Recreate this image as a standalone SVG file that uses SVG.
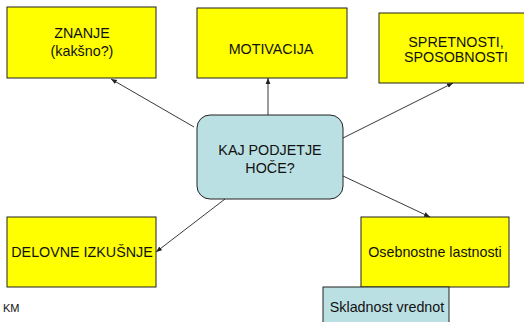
<svg xmlns="http://www.w3.org/2000/svg" width="524" height="322" viewBox="0 0 524 322">
<style>
.y{fill:#FFFF00;stroke:#222;stroke-width:1}
.b{fill:#BBE0E3;stroke:#222;stroke-width:1}
text{font-family:"Liberation Sans",Arial,sans-serif;font-size:14.3px;fill:#111;text-anchor:middle}
.c line{stroke:#222;stroke-width:0.9;marker-end:url(#ah)}
</style>
<defs>
<marker id="ah" viewBox="0 0 10 10" refX="10" refY="5" markerWidth="6" markerHeight="6" orient="auto" markerUnits="userSpaceOnUse">
<path d="M0,1 L10,5 L0,9 Z" fill="#222"/>
</marker>
</defs>
<rect width="524" height="322" fill="#fff"/>
<g id="znanje"><rect class="y" x="7" y="7" width="149" height="71"/><text x="82" y="38">ZNANJE</text><text x="82" y="56">(kakšno?)</text></g>
<g id="motivacija"><rect class="y" x="197" y="8" width="150" height="70"/><text x="271" y="54">MOTIVACIJA</text></g>
<g id="spretnosti"><rect class="y" x="379" y="13" width="147" height="70"/><text x="456" y="47">SPRETNOSTI,</text><text x="456" y="62">SPOSOBNOSTI</text></g>
<g id="center"><rect class="b" x="197" y="115" width="146" height="84" rx="13"/><text x="270" y="155">KAJ PODJETJE</text><text x="270" y="173">HOČE?</text></g>
<g id="delovne"><rect class="y" x="7" y="217" width="149" height="70"/><text x="82" y="257">DELOVNE IZKUŠNJE</text></g>
<g id="osebnostne"><rect class="y" x="361" y="217" width="148" height="70"/><text x="435" y="257">Osebnostne lastnosti</text></g>
<g id="skladnost"><rect class="b" x="323" y="287" width="126" height="40"/><text x="387" y="312">Skladnost vrednot</text></g>
<g id="km"><text x="3" y="312" style="font-size:11px;text-anchor:start">KM</text></g>
<g class="c" id="connectors">
<line x1="194" y1="127" x2="111" y2="79"/>
<line x1="268" y1="115" x2="268" y2="78"/>
<line x1="343" y1="138" x2="453" y2="83"/>
<line x1="343" y1="176" x2="430" y2="217"/>
<line x1="225" y1="199" x2="156" y2="252"/>
</g>
</svg>
